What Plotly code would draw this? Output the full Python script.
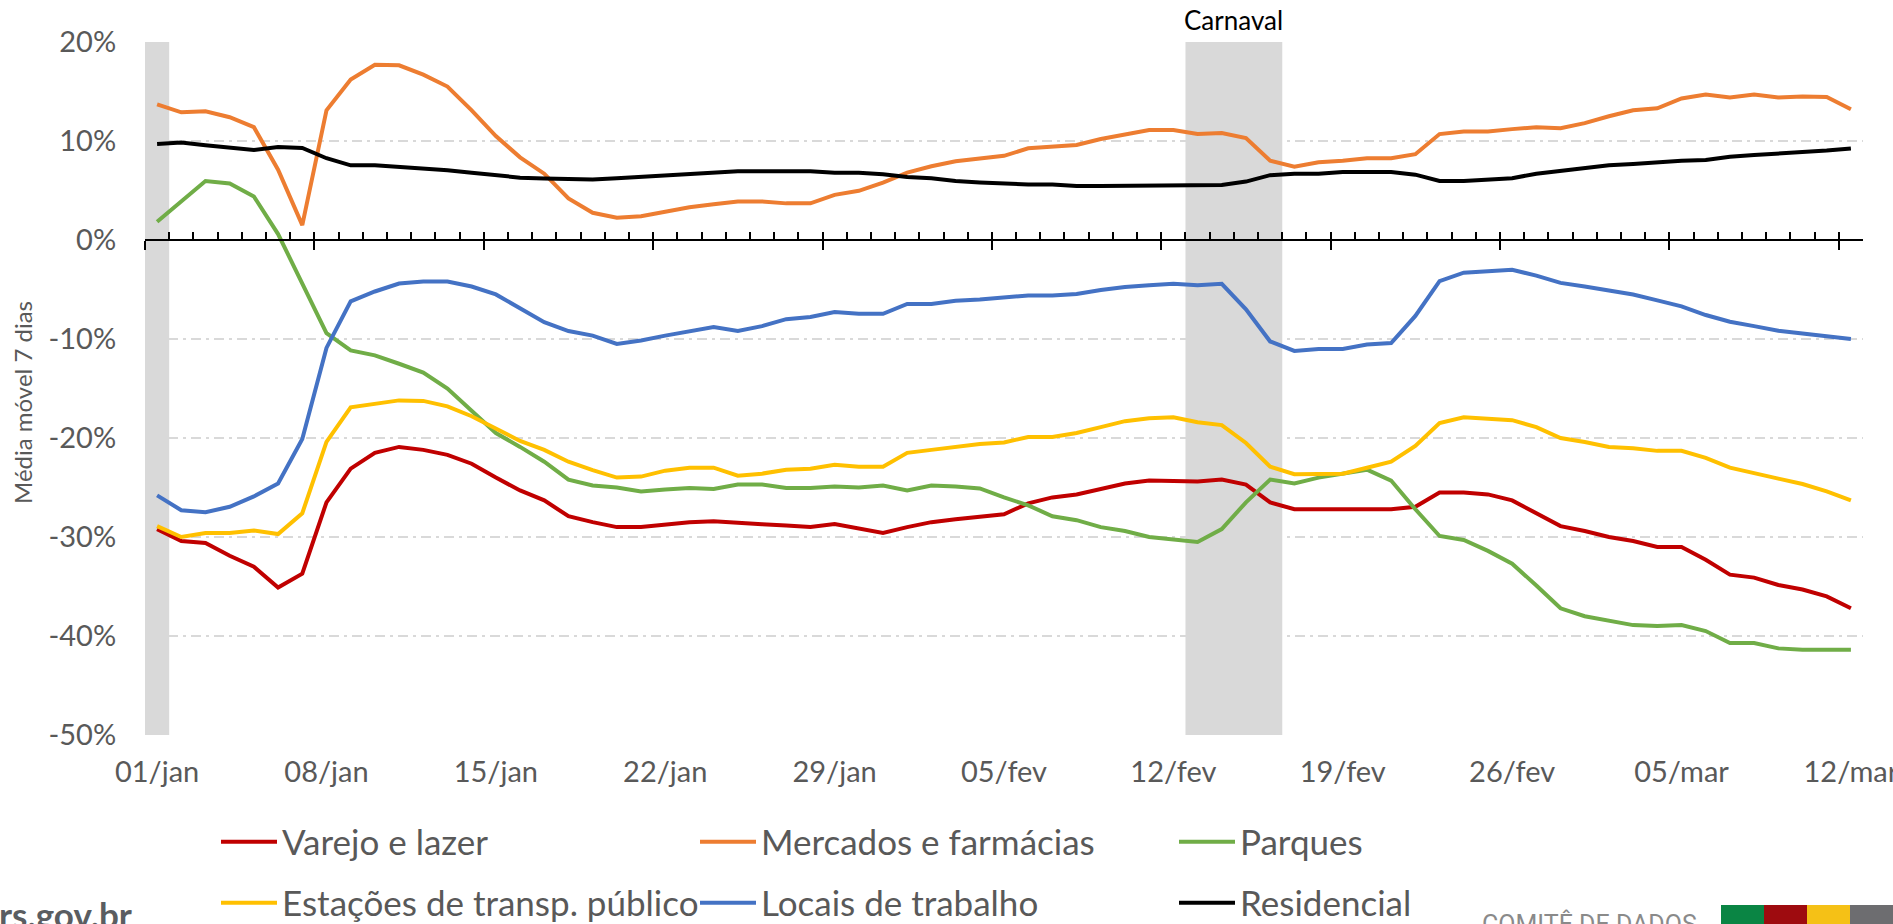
import pandas as pd
import plotly.graph_objects as go

# ---------------- data ----------------
meses = ["jan", "fev", "mar", "abr", "mai", "jun", "jul", "ago", "set", "out", "nov", "dez"]
datas = pd.date_range("2021-01-01", "2021-03-12", freq="D")
categorias = [f"{d.day:02d}/{meses[d.month - 1]}" for d in datas]

varejo_lazer = [-29.2, -30.4, -30.6, -31.9, -33.0, -35.1, -33.7, -26.5, -23.1, -21.5, -20.9, -21.2, -21.7, -22.6, -24.0, -25.3, -26.3, -27.9,
                -28.5, -29.0, -29.0, -28.7, -28.5, -28.4, -28.5, -28.7, -28.85, -29.0, -28.7, -29.2, -29.6, -29.0, -28.5, -28.2, -27.9, -27.7,
                -26.6, -26.0, -25.7, -25.1, -24.6, -24.3, -24.3, -24.4, -24.2, -24.7, -26.5, -27.2, -27.2, -27.2, -27.1, -27.2, -26.95, -25.5,
                -25.5, -25.7, -26.3, -27.6, -28.9, -29.4, -30.0, -30.4, -31.0, -31.0, -32.3, -33.8, -34.1, -34.85, -35.3, -36.0, -37.2]
mercados_farmacias = [13.7, 12.9, 13.0, 12.4, 11.4, 7.1, 1.5, 13.1, 16.2, 17.7, 17.65, 16.7, 15.5, 13.1, 10.5, 8.35, 6.7, 4.2,
                      2.75, 2.26, 2.4, 2.85, 3.3, 3.6, 3.9, 3.9, 3.7, 3.7, 4.56, 4.97, 5.8, 6.8, 7.45, 7.95, 8.26, 8.5,
                      9.26, 9.4, 9.6, 10.2, 10.7, 11.1, 11.1, 10.7, 10.8, 10.3, 8.0, 7.4, 7.86, 8.0, 8.26, 8.26, 8.67, 10.7,
                      10.97, 10.97, 11.2, 11.4, 11.3, 11.8, 12.5, 13.1, 13.3, 14.3, 14.7, 14.4, 14.7, 14.4, 14.5, 14.45, 13.2]
parques = [1.85, 3.97, 5.96, 5.7, 4.4, 0.6, -4.4, -9.4, -11.15, -11.65, -12.5, -13.4, -15.0, -17.2, -19.5, -20.9, -22.4, -24.2,
           -24.8, -25.0, -25.4, -25.2, -25.06, -25.15, -24.7, -24.7, -25.06, -25.06, -24.9, -25.0, -24.8, -25.3, -24.8, -24.9, -25.1, -26.0,
           -26.8, -27.9, -28.3, -29.0, -29.4, -30.0, -30.3, -30.5, -29.2, -26.5, -24.2, -24.6, -24.0, -23.6, -23.2, -24.3, -27.2, -29.9,
           -30.3, -31.4, -32.7, -34.9, -37.2, -38.0, -38.5, -38.9, -39.0, -38.9, -39.5, -40.7, -40.7, -41.25, -41.4, -41.4, -41.4]
estacoes_transporte = [-28.9, -30.0, -29.6, -29.6, -29.35, -29.7, -27.6, -20.4, -16.9, -16.6, -16.2, -16.25, -16.8, -17.8, -19.1, -20.3, -21.2, -22.4,
                       -23.25, -24.0, -23.9, -23.3, -23.0, -23.0, -23.8, -23.6, -23.2, -23.1, -22.7, -22.9, -22.9, -21.5, -21.2, -20.9, -20.6, -20.45,
                       -19.9, -19.9, -19.5, -18.9, -18.3, -18.0, -17.9, -18.4, -18.7, -20.5, -22.9, -23.65, -23.6, -23.6, -23.0, -22.4, -20.8, -18.5,
                       -17.9, -18.0, -18.2, -18.9, -20.0, -20.4, -20.9, -21.04, -21.3, -21.3, -22.0, -23.0, -23.6, -24.1, -24.65, -25.4, -26.3]
locais_trabalho = [-25.8, -27.3, -27.5, -26.95, -25.9, -24.6, -20.1, -10.9, -6.2, -5.2, -4.4, -4.2, -4.2, -4.7, -5.5, -6.9, -8.3, -9.2,
                   -9.66, -10.5, -10.16, -9.66, -9.2, -8.8, -9.2, -8.7, -8.0, -7.77, -7.27, -7.45, -7.45, -6.46, -6.46, -6.14, -6.0, -5.8,
                   -5.6, -5.6, -5.46, -5.06, -4.74, -4.56, -4.42, -4.56, -4.42, -7.0, -10.25, -11.2, -11.0, -11.0, -10.56, -10.4, -7.67, -4.15,
                   -3.3, -3.16, -3.0, -3.6, -4.33, -4.7, -5.1, -5.5, -6.1, -6.7, -7.58, -8.26, -8.7, -9.16, -9.44, -9.7, -10.0]
residencial = [9.7, 9.84, 9.57, 9.3, 9.1, 9.4, 9.3, 8.26, 7.54, 7.54, 7.4, 7.27, 7.04, 6.8, 6.5, 6.3, 6.2, 6.1,
               6.1, 6.23, 6.37, 6.55, 6.7, 6.86, 6.95, 6.95, 6.95, 6.95, 6.8, 6.8, 6.64, 6.37, 6.23, 5.96, 5.82, 5.7,
               5.6, 5.6, 5.46, 5.46, 5.46, 5.46, 5.46, 5.46, 5.55, 5.9, 6.55, 6.7, 6.7, 6.86, 6.86, 6.86, 6.6, 5.96,
               5.96, 6.1, 6.23, 6.7, 7.0, 7.27, 7.54, 7.67, 7.86, 8.0, 8.08, 8.4, 8.58, 8.7, 8.9, 9.03, 9.25]

series_nomes = ["Varejo e lazer", "Mercados e farmácias", "Parques",
                "Estações de transp. público", "Locais de trabalho", "Residencial"]
series_valores = [varejo_lazer, mercados_farmacias, parques, estacoes_transporte, locais_trabalho, residencial]
series_cores = ["#C00000", "#ED7D31", "#70AD47", "#FFC000", "#4472C4", "#000000"]

periodos_destaque = [("01/jan", "01/jan", ""), ("13/fev", "16/fev", "Carnaval")]
y_ticks = [-50, -40, -30, -20, -10, 0, 10, 20]
x_ticks = categorias[::7]

# ---------------- geometry (pixels) ----------------
W, H = 1893, 924
L, R, T, B = 145, 1863, 42, 735


def fx(px):
    return (px - L) / (R - L)


def fy(py):
    return (B - py) / (B - T)


GRAY = "#595959"
FONT = "Lato"

fig = go.Figure()
for i, (nome, vals, cor) in enumerate(zip(series_nomes, series_valores, series_cores)):
    fig.add_trace(go.Scatter(
        x=categorias, y=vals, name=nome, mode="lines",
        line=dict(color=cor, width=4),
        legend="legend" if i < 3 else "legend2",
        hovertemplate="%{x}: %{y:.1f}%<extra>" + nome + "</extra>",
    ))

# helper traces so the overlay axes (zero line with ticks) are drawn
n = len(categorias)
fig.add_trace(go.Scatter(x=[None], y=[None], xaxis="x2", showlegend=False, hoverinfo="skip"))
fig.add_trace(go.Scatter(x=[None], y=[None], xaxis="x3", showlegend=False, hoverinfo="skip"))

limites = [k - 0.5 for k in range(n + 1)]
limites_maiores = [k - 0.5 for k in range(0, n + 1, 7)]
zero_pos = (0 - y_ticks[0]) / (y_ticks[-1] - y_ticks[0])

# highlighted periods
shapes = []
annotations = []
for ini, fim, rotulo in periodos_destaque:
    i0, i1 = categorias.index(ini), categorias.index(fim)
    shapes.append(dict(type="rect", xref="x", yref="paper", x0=i0 - 0.5, x1=i1 + 0.5, y0=0, y1=1,
                       fillcolor="#D9D9D9", line=dict(width=0), layer="between"))
    if rotulo:
        annotations.append(dict(text=rotulo, xref="x", yref="paper", x=(i0 + i1) / 2, y=fy(20),
                                showarrow=False, xanchor="center", yanchor="middle",
                                font=dict(family=FONT, size=26, color="#000000")))

# y axis title
annotations.append(dict(text="Média móvel 7 dias", xref="paper", yref="paper", x=fx(22), y=fy(403),
                        textangle=-90, showarrow=False, xanchor="center", yanchor="middle",
                        font=dict(family=FONT, size=24, color=GRAY)))

# footer logos
annotations.append(dict(text="<b>rs.gov.br</b>", xref="paper", yref="paper", x=fx(-3), y=fy(914),
                        showarrow=False, xanchor="left", yanchor="middle",
                        font=dict(family=FONT, size=35, color="#5A5D61")))
annotations.append(dict(text="COMITÊ DE DADOS", xref="paper", yref="paper", x=fx(1480), y=fy(924),
                        showarrow=False, xanchor="left", yanchor="middle",
                        font=dict(family="Roboto", size=25, color="#8A8A8A")))
logo_cores = ["#0A8544", "#9E0B0F", "#F5C116", "#6D6D70"]
for k, c in enumerate(logo_cores):
    shapes.append(dict(type="rect", xref="paper", yref="paper", x0=fx(1721 + 43 * k), x1=fx(1764 + 43 * k),
                       y0=fy(930), y1=fy(905), fillcolor=c, line=dict(width=0), layer="above"))

legend_style = dict(orientation="h", xanchor="left", yanchor="middle",
                    entrywidth=408, itemwidth=56, font=dict(family=FONT, size=35, color=GRAY),
                    bgcolor="rgba(0,0,0,0)")

fig.update_layout(
    width=W, height=H,
    margin=dict(l=L, r=W - R, t=T, b=H - B, pad=0, autoexpand=False),
    paper_bgcolor="white", plot_bgcolor="white",
    font=dict(family=FONT, color=GRAY),
    xaxis=dict(type="category", range=[-0.5, n - 0.5], tickmode="array", tickvals=x_ticks, ticktext=x_ticks,
               showgrid=False, zeroline=False, showline=False,
               ticks="outside", ticklen=11, tickcolor="rgba(0,0,0,0)",
               tickfont=dict(family=FONT, size=29, color=GRAY)),
    xaxis2=dict(overlaying="x", anchor="free", position=zero_pos, range=[-0.5, n - 0.5],
                showline=True, linecolor="black", linewidth=2,
                tickmode="array", tickvals=limites, ticks="inside", ticklen=7, tickwidth=2, tickcolor="black",
                showticklabels=False, showgrid=False, zeroline=False, fixedrange=True),
    xaxis3=dict(overlaying="x", anchor="free", position=zero_pos, range=[-0.5, n - 0.5],
                showline=False, tickmode="array", tickvals=limites_maiores, ticks="outside", ticklen=9,
                tickwidth=2, tickcolor="black",
                showticklabels=False, showgrid=False, zeroline=False, fixedrange=True),
    yaxis=dict(range=[y_ticks[0], y_ticks[-1]], tickmode="array", tickvals=y_ticks,
               ticktext=[f"{v}%" for v in y_ticks], zeroline=False, showline=False,
               showgrid=True, gridcolor="#D9D9D9", gridwidth=1.5, griddash="10px,5px,3px,5px",
               ticks="outside", ticklen=22, tickcolor="rgba(0,0,0,0)",
               tickfont=dict(family=FONT, size=29, color=GRAY)),
    legend=dict(x=fx(216), y=fy(842), **legend_style),
    legend2=dict(x=fx(216), y=fy(903), **legend_style),
    shapes=shapes,
    annotations=annotations,
    showlegend=True,
)

fig.write_html("out.html", config={"displayModeBar": False},
               post_script="document.body.style.margin='0';document.body.style.overflow='hidden';")
